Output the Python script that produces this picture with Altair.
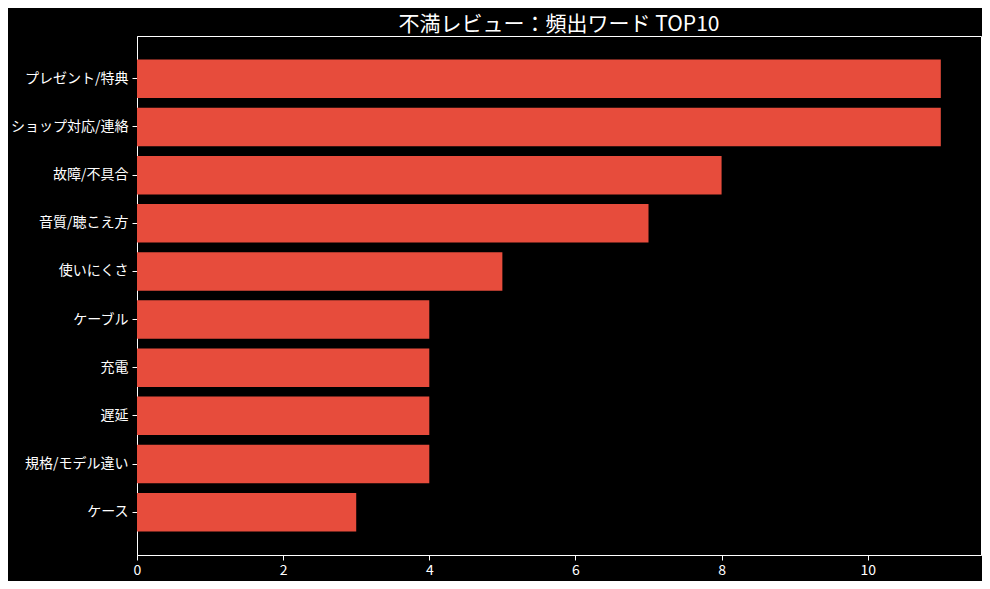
import altair as alt
import pandas as pd

categories = ["プレゼント/特典", "ショップ対応/連絡", "故障/不具合", "音質/聴こえ方", "使いにくさ",
              "ケーブル", "充電", "遅延", "規格/モデル違い", "ケース"]
counts = [11, 11, 8, 7, 5, 4, 4, 4, 4, 3]

df = pd.DataFrame({"word": categories, "count": counts})

FONT = "Noto Sans CJK JP"

chart = alt.Chart(df).mark_bar(color="#e74c3c").encode(
    x=alt.X("count:Q", scale=alt.Scale(domain=[0, 11.55], nice=False, zero=True),
            axis=alt.Axis(values=[0, 2, 4, 6, 8, 10], title=None, grid=False,
                          domainColor="white", tickColor="white", labelColor="white",
                          labelFontSize=14, labelFont=FONT, tickSize=5, labelPadding=3,
                          labelFlush=False, format="d")),
    y=alt.Y("word:N", sort=categories,
            scale=alt.Scale(paddingInner=0.2, paddingOuter=0.49),
            axis=alt.Axis(title=None, domainColor="white", tickColor="white",
                          labelColor="white", labelFontSize=14, labelFont=FONT,
                          tickSize=5, labelPadding=4)),
).properties(
    width=844,
    height=519,
    background="black",
    padding={"left": 129, "top": 28, "right": 1, "bottom": 26},
    autosize=alt.AutoSizeParams(type="none"),
    title=alt.Title("不満レビュー：頻出ワード TOP10", color="white", fontSize=21,
                    font=FONT, fontWeight="normal", offset=1),
).configure_view(stroke="white", strokeWidth=1)

chart.save("out.html", embed_options={"renderer": "svg", "actions": False})
